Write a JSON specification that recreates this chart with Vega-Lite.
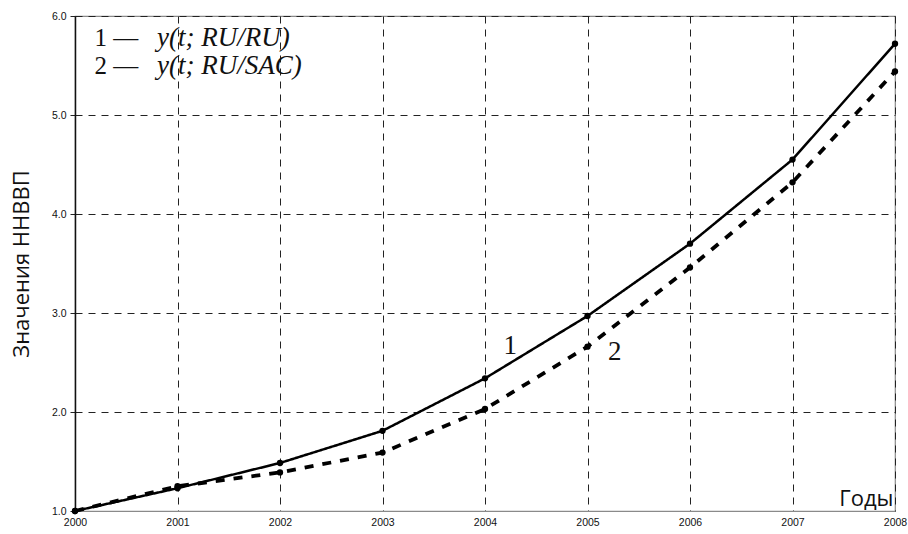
{
  "$schema": "https://vega.github.io/schema/vega-lite/v6.json",
  "autosize": {"type": "none"},
  "width": 820,
  "height": 495,
  "padding": {"left": 75, "top": 16, "right": 13, "bottom": 23},
  "background": "white",
  "config": {
    "view": {"stroke": "#8a8a8a", "strokeWidth": 1.2},
    "axis": {
      "labelFont": "Liberation Sans",
      "labelFontSize": 10.5,
      "labelColor": "#111",
      "gridColor": "#222",
      "gridDash": [7, 6],
      "gridWidth": 1,
      "gridOpacity": 1,
      "tickColor": "#222",
      "domainColor": "#8a8a8a"
    }
  },
  "datasets": {
    "series": [
      {"year": 2000, "series": "1", "value": 1.0},
      {"year": 2001, "series": "1", "value": 1.23},
      {"year": 2002, "series": "1", "value": 1.485},
      {"year": 2003, "series": "1", "value": 1.81},
      {"year": 2004, "series": "1", "value": 2.34},
      {"year": 2005, "series": "1", "value": 2.97},
      {"year": 2006, "series": "1", "value": 3.7},
      {"year": 2007, "series": "1", "value": 4.55},
      {"year": 2008, "series": "1", "value": 5.72},
      {"year": 2000, "series": "2", "value": 1.0},
      {"year": 2001, "series": "2", "value": 1.25},
      {"year": 2002, "series": "2", "value": 1.39},
      {"year": 2003, "series": "2", "value": 1.59},
      {"year": 2004, "series": "2", "value": 2.03},
      {"year": 2005, "series": "2", "value": 2.66},
      {"year": 2006, "series": "2", "value": 3.46},
      {"year": 2007, "series": "2", "value": 4.32},
      {"year": 2008, "series": "2", "value": 5.44}
    ],
    "legendPrefix": [
      {"x": 2000.19, "y": 5.7, "text": ["1 —", "2 —"]}
    ],
    "legendText": [
      {"x": 2000.8, "y": 5.7, "text": ["y(t; RU/RU)", "y(t; RU/SAC)"]}
    ],
    "curveLabels": [
      {"x": 2004.18, "y": 2.59, "text": "1"},
      {"x": 2005.2, "y": 2.53, "text": "2"}
    ]
  },
  "layer": [
    {
      "data": {"name": "series"},
      "mark": {"type": "line", "color": "black", "strokeCap": "butt"},
      "encoding": {
        "x": {
          "field": "year", "type": "quantitative",
          "scale": {"domain": [2000, 2008], "nice": false, "zero": false},
          "axis": {
            "values": [2000, 2001, 2002, 2003, 2004, 2005, 2006, 2007, 2008],
            "format": "d",
            "grid": true,
            "ticks": false,
            "labelPadding": 6,
            "labelFlush": false,
            "domainColor": "#8a8a8a",
            "title": "Годы",
            "titleFont": "Open Sans",
            "titleFontSize": 22,
            "titleFontWeight": "normal",
            "titleColor": "#111",
            "titleAlign": "right",
            "titleBaseline": "bottom",
            "titleX": 818,
            "titleY": -1
          }
        },
        "y": {
          "field": "value", "type": "quantitative",
          "scale": {"domain": [1, 6], "nice": false, "zero": false},
          "axis": {
            "values": [1, 2, 3, 4, 5, 6],
            "format": ".1f",
            "grid": true,
            "tickSize": 5,
            "labelPadding": 4,
            "domainColor": "#111",
            "domainWidth": 1.5,
            "title": "Значения ННВВП",
            "titleFont": "Open Sans",
            "titleFontSize": 22,
            "titleFontWeight": "normal",
            "titleColor": "#111",
            "titlePadding": 18
          }
        },
        "detail": {"field": "series"},
        "strokeDash": {
          "field": "series", "type": "nominal",
          "scale": {"domain": ["1", "2"], "range": [[1, 0], [9, 9]]},
          "legend": null
        },
        "strokeWidth": {
          "field": "series", "type": "nominal",
          "scale": {"domain": ["1", "2"], "range": [2.5, 3.8]},
          "legend": null
        }
      }
    },
    {
      "data": {"name": "series"},
      "mark": {"type": "point", "filled": true, "color": "black", "opacity": 1, "size": 40},
      "encoding": {
        "x": {"field": "year", "type": "quantitative"},
        "y": {"field": "value", "type": "quantitative"}
      }
    },
    {
      "data": {"name": "legendPrefix"},
      "mark": {"type": "text", "font": "Liberation Serif", "fontSize": 25, "lineHeight": 28, "align": "left", "baseline": "alphabetic", "color": "#111"},
      "encoding": {
        "x": {"field": "x", "type": "quantitative"},
        "y": {"field": "y", "type": "quantitative"},
        "text": {"field": "text"}
      }
    },
    {
      "data": {"name": "legendText"},
      "mark": {"type": "text", "font": "Liberation Serif", "fontStyle": "italic", "fontSize": 27, "lineHeight": 28, "align": "left", "baseline": "alphabetic", "color": "#111"},
      "encoding": {
        "x": {"field": "x", "type": "quantitative"},
        "y": {"field": "y", "type": "quantitative"},
        "text": {"field": "text"}
      }
    },
    {
      "data": {"name": "curveLabels"},
      "mark": {"type": "text", "font": "Liberation Serif", "fontSize": 27, "align": "left", "baseline": "alphabetic", "color": "#111"},
      "encoding": {
        "x": {"field": "x", "type": "quantitative"},
        "y": {"field": "y", "type": "quantitative"},
        "text": {"field": "text"}
      }
    }
  ]
}
